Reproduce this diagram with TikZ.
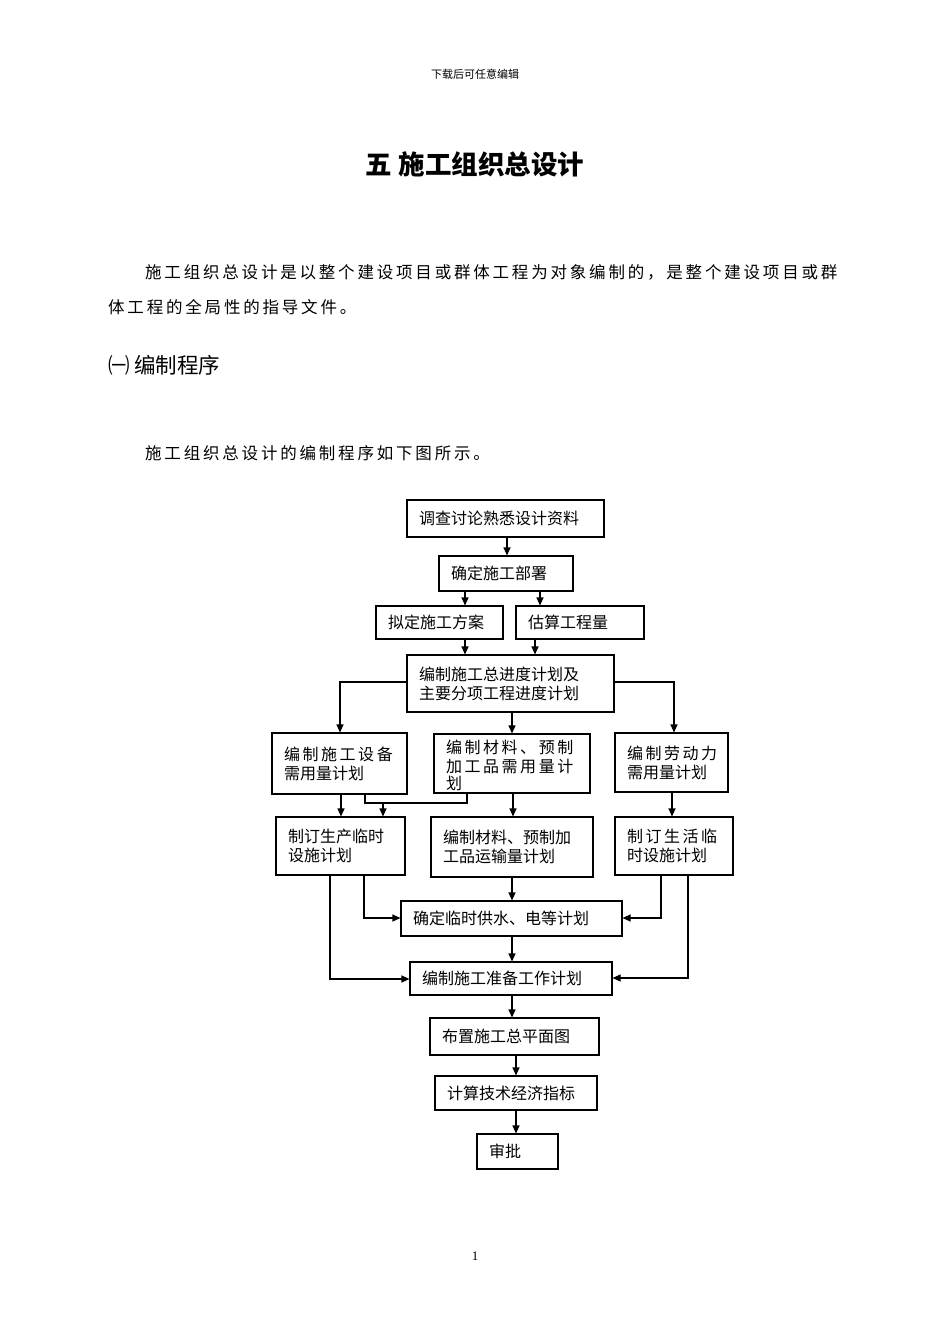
\documentclass[tikz,border=0pt]{standalone}
\usepackage{fontspec}
\usetikzlibrary{arrows.meta}
\setmainfont{Liberation Serif}
\newfontfamily\cjk{Noto Sans CJK SC}
\newfontfamily\cjksp[LetterSpace=16]{Noto Sans CJK SC}
\newfontfamily\cjkpar[LetterSpace=17]{Noto Sans CJK SC}
\begin{document}
\begin{tikzpicture}[x=1pt,y=-1pt,
  bx/.style={draw,line width=1.1pt,inner sep=0pt,font=\cjk\fontsize{16}{19}\selectfont,align=left},
  ar/.style={line width=1.1pt,-{Triangle[length=8pt,width=7pt]}},
  ln/.style={line width=1.1pt}]
\useasboundingbox (0,0) rectangle (950,1344);
\newcommand\bx[6]{\node[bx,minimum width=#4-#2,minimum height=#5-#3,text width=#4-#2-24] (#1) at ({(#2+#4)/2},{(#3+#5)/2}) {#6};}
% page texts
\node[font=\cjk\fontsize{11}{13}\selectfont] (hd) at (475,74) {下载后可任意编辑};
\node[font=\cjk\bfseries\fontsize{26.5}{30}\selectfont] (tt) at (475,164) {五 施工组织总设计};
\node[font=\cjkpar\fontsize{16.5}{20}\selectfont,anchor=west,inner sep=0pt] (p1) at (145,272) {施工组织总设计是以整个建设项目或群体工程为对象编制的，是整个建设项目或群};
\node[font=\cjkpar\fontsize{16.5}{20}\selectfont,anchor=west,inner sep=0pt] (p2) at (108,307) {体工程的全局性的指导文件。};
\node[font=\cjk\fontsize{21.5}{24}\selectfont,anchor=west,inner sep=0pt] (h1) at (108,365) {㈠ 编制程序};
\node[font=\cjkpar\fontsize{16.5}{20}\selectfont,anchor=west,inner sep=0pt] (p3) at (145,453) {施工组织总设计的编制程序如下图所示。};
\node[font=\fontsize{13}{15}\selectfont] (pg) at (475,1256) {1};
% boxes
\bx{A}{407}{500}{604}{537}{调查讨论熟悉设计资料}
\bx{B}{439}{556}{573}{591}{确定施工部署}
\bx{C}{376}{606}{503}{639}{拟定施工方案}
\bx{D}{516}{606}{644}{639}{估算工程量}
\bx{E}{407}{655}{614}{712}{编制施工总进度计划及\\主要分项工程进度计划}
\bx{F}{272}{733}{407}{794}{{\cjksp 编制施工设备}\\需用量计划}
\bx{G}{434}{734}{590}{793}{\\[-2pt]{\cjksp 编制材料、预制}\\{\cjksp 加工品需用量计}\\[-2pt]划}
\bx{H}{615}{733}{728}{792}{{\cjksp 编制劳动力}\\需用量计划}
\bx{I}{276}{817}{405}{875}{制订生产临时\\设施计划}
\bx{J}{431}{817}{593}{877}{编制材料、预制加\\工品运输量计划}
\bx{K}{615}{817}{733}{875}{{\cjksp 制订生活临}\\时设施计划}
\bx{L}{401}{901}{622}{936}{确定临时供水、电等计划}
\bx{M}{410}{962}{612}{995}{编制施工准备工作计划}
\bx{N}{430}{1018}{599}{1055}{布置施工总平面图}
\bx{O}{435}{1076}{597}{1110}{计算技术经济指标}
\bx{P}{477}{1134}{558}{1169}{审批}
% connectors
\draw[ar] (A.south -| 507,0) -- (B.north -| 507,0);
\draw[ar] (B.south -| 465,0) -- (C.north -| 465,0);
\draw[ar] (B.south -| 540,0) -- (D.north -| 540,0);
\draw[ar] (C.south -| 465,0) -- (E.north -| 465,0);
\draw[ar] (D.south -| 535,0) -- (E.north -| 535,0);
\draw[ar] (E.west |- 0,682) -| (F.north -| 340,0);
\draw[ar] (E.east |- 0,682) -| (H.north -| 674,0);
\draw[ar] (E.south -| 512,0) -- (G.north -| 512,0);
\draw[ar] (F.south -| 341,0) -- (I.north -| 341,0);
\coordinate (j1) at (383,803);
\draw[ln] (F.south -| 365,0) |- (j1) -| (G.south -| 467,0);
\draw[ar] (j1) -- (I.north -| 383,0);
\draw[ar] (G.south -| 513,0) -- (J.north -| 513,0);
\draw[ar] (H.south -| 672,0) -- (K.north -| 672,0);
\draw[ar] (I.south -| 330,0) |- (M.west |- 0,979);
\draw[ar] (I.south -| 364,0) |- (L.west |- 0,918);
\draw[ar] (J.south -| 512,0) -- (L.north -| 512,0);
\draw[ar] (K.south -| 661,0) |- (L.east |- 0,918);
\draw[ar] (K.south -| 688,0) |- (M.east |- 0,978);
\draw[ar] (L.south -| 512,0) -- (M.north -| 512,0);
\draw[ar] (M.south -| 512,0) -- (N.north -| 512,0);
\draw[ar] (N.south -| 516,0) -- (O.north -| 516,0);
\draw[ar] (O.south -| 516,0) -- (P.north -| 516,0);
\end{tikzpicture}
\end{document}
